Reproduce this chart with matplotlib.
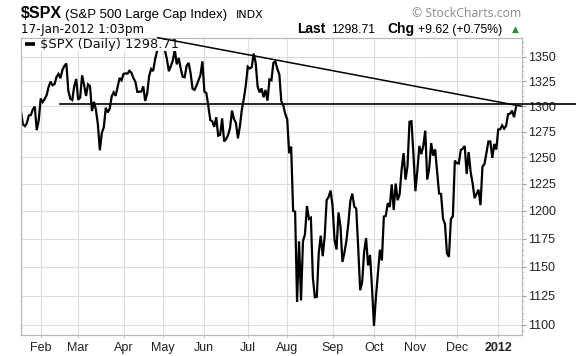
import numpy as np
import pandas as pd
import matplotlib
matplotlib.use("Agg")
import matplotlib.pyplot as plt
from matplotlib.patches import Rectangle
from matplotlib.ticker import FixedLocator, NullFormatter

# ---------------- data ----------------
start_date = "2011-01-18"
end_date = "2012-01-17"
market_holidays = ["2011-02-21", "2011-04-22", "2011-05-30", "2011-07-04",
                   "2011-09-05", "2011-11-24", "2011-12-26", "2012-01-02",
                   "2012-01-16"]

closes = [
    # Jan 2011
    1295.02, 1281.92, 1280.26, 1283.35, 1290.84, 1291.18, 1296.63, 1299.54, 1276.34, 1286.12,
    # Feb
    1307.59, 1304.03, 1307.10, 1310.87, 1319.05, 1324.57, 1320.88, 1321.87, 1329.15, 1332.32,
    1328.01, 1336.32, 1340.43, 1343.01, 1315.44, 1307.40, 1306.10, 1319.88, 1327.22,
    # Mar
    1306.33, 1308.44, 1330.97, 1321.15, 1310.13, 1321.82, 1320.02, 1295.11, 1304.28, 1296.39,
    1281.87, 1256.88, 1273.72, 1279.21, 1298.38, 1293.77, 1297.54, 1309.66, 1313.80, 1310.19,
    1319.44, 1328.26, 1325.83,
    # Apr
    1332.41, 1332.87, 1332.63, 1335.54, 1333.51, 1328.17, 1324.46, 1314.16, 1314.41, 1314.52,
    1319.68, 1305.14, 1312.62, 1330.36, 1337.38, 1335.25, 1347.24, 1355.66, 1360.48, 1363.61,
    # May
    1361.22, 1356.62, 1347.32, 1335.10, 1340.20, 1346.29, 1357.16, 1342.08, 1348.65, 1337.77,
    1329.47, 1328.98, 1340.68, 1343.60, 1333.27, 1317.37, 1316.28, 1320.47, 1325.69, 1331.10,
    1345.20,
    # Jun
    1314.55, 1312.94, 1300.16, 1286.17, 1284.94, 1279.56, 1289.00, 1270.98, 1271.83, 1287.87,
    1265.42, 1267.64, 1271.50, 1278.36, 1295.52, 1287.14, 1283.50, 1268.45, 1280.10, 1296.67,
    1307.41, 1320.64,
    # Jul
    1339.67, 1337.88, 1339.22, 1353.22, 1343.80, 1319.49, 1313.64, 1317.72, 1308.87, 1316.14,
    1305.44, 1326.73, 1325.84, 1343.80, 1345.02, 1337.43, 1331.94, 1304.89, 1300.67, 1292.28,
    # Aug
    1286.94, 1254.05, 1260.34, 1200.07, 1199.38, 1119.46, 1172.53, 1120.76, 1172.64, 1178.81,
    1204.49, 1192.76, 1193.89, 1140.65, 1123.53, 1123.82, 1162.35, 1177.60, 1159.27, 1176.80,
    1210.08, 1212.92, 1218.89,
    # Sep
    1204.42, 1173.97, 1165.24, 1198.62, 1185.90, 1154.23, 1162.27, 1172.87, 1188.68, 1209.11,
    1216.01, 1204.09, 1202.09, 1166.76, 1129.56, 1136.43, 1162.95, 1175.38, 1151.06, 1160.40,
    1131.42,
    # Oct
    1099.23, 1123.95, 1144.03, 1164.97, 1155.46, 1194.89, 1195.54, 1207.25, 1203.66, 1224.58,
    1200.86, 1225.38, 1209.88, 1215.39, 1238.25, 1254.19, 1229.05, 1242.00, 1284.59, 1285.09,
    1253.30,
    # Nov
    1218.28, 1237.90, 1261.15, 1253.23, 1261.12, 1275.92, 1229.10, 1239.69, 1263.85, 1251.78,
    1257.81, 1236.91, 1216.13, 1215.65, 1192.98, 1188.04, 1161.79, 1158.67, 1192.55, 1195.19,
    1246.96,
    # Dec
    1244.58, 1244.28, 1257.08, 1258.47, 1261.01, 1234.35, 1255.19, 1236.47, 1225.73, 1211.82,
    1215.75, 1219.66, 1205.35, 1241.30, 1243.72, 1254.00, 1265.33, 1265.43, 1249.64, 1263.02,
    1257.60,
    # Jan 2012
    1277.06, 1277.30, 1281.06, 1277.81, 1280.70, 1292.08, 1292.48, 1295.50, 1289.09, 1298.71,
]

month_labels = ["Feb", "Mar", "Apr", "May", "Jun", "Jul", "Aug", "Sep", "Oct", "Nov", "Dec", "2012"]
y_ticks = [1100, 1125, 1150, 1175, 1200, 1225, 1250, 1275, 1300, 1325, 1350]

# annotation lines (drawn by hand on the original)
support_level = 1302.6
support_start = "2011-02-15"
trend_start = ("2011-04-27", 1369.7)
trend_end_value = 1299.8

# ---------------- layout helpers ----------------
W, H = 576, 356
def fx(x): return x / W
def fy(y): return 1 - y / H

dates = pd.bdate_range(start_date, end_date, freq="C", holidays=market_holidays)
n = len(closes)
dates = dates[:n]
x = np.arange(n)

month_ids = dates.year * 12 + dates.month
first_of_month = [i for i in range(1, n) if month_ids[i] != month_ids[i - 1]]

fig = plt.figure(figsize=(W / 100, H / 100), dpi=100)
fig.patch.set_facecolor("white")
L, R, T, B = 20.7, 521.7, 37.7, 335.0
ax = fig.add_axes([fx(L), fy(B), (R - L) / W, (B - T) / H])

ax.plot(x, closes, color="black", lw=1.6, zorder=2, solid_joinstyle="miter")

ax.set_yscale("log")
ax.set_ylim(1091.6, 1369.7)
ax.set_xlim(-0.14, 253.9)

ax.yaxis.set_major_locator(FixedLocator(y_ticks))
ax.yaxis.set_minor_locator(FixedLocator(list(range(1095, 1370, 5))))
ax.yaxis.set_minor_formatter(NullFormatter())
ax.set_yticklabels([str(v) for v in y_ticks])
ax.yaxis.tick_right()
ax.tick_params(axis="y", which="major", length=3, width=0.8, color="#a0a0a0",
               pad=1.5, labelsize=9, labelcolor="#222222")
ax.tick_params(axis="y", which="minor", length=1.5, width=0.6, color="#c0c0c0")
for lab in ax.get_yticklabels():
    lab.set_family("Liberation Sans")

ax.set_xticks(first_of_month)
ax.set_xticklabels(month_labels)
ax.tick_params(axis="x", length=2, width=0.8, color="#d0d0d0", pad=3,
               labelsize=9, labelcolor="#222222")
for lab in ax.get_xticklabels():
    lab.set_family("Liberation Sans")
ax.get_xticklabels()[-1].set_fontweight("bold")

ax.grid(True, which="major", color="#dcdcdc", lw=0.8, zorder=0)
ax.set_axisbelow(True)
for s in ax.spines.values():
    s.set_color("#b8b8b8")
    s.set_linewidth(0.9)

# legend box hiding the top of the price line
ax.add_patch(Rectangle((fx(L + 1), fy(50.5)), (190 - L) / W, (50.5 - T - 1) / H,
                       transform=fig.transFigure, facecolor="white", edgecolor="none",
                       zorder=3, clip_on=False))
ax.plot([fx(25), fx(35)], [fy(44.3), fy(44.3)], transform=fig.transFigure,
        color="black", lw=2.6, zorder=4, clip_on=False, solid_capstyle="butt")
fig.text(fx(39.5), fy(44.5), "$SPX (Daily) 1298.71", family="DejaVu Sans", fontsize=9.4,
         va="center", ha="left", color="#111111", zorder=5)

# hand-drawn support / trend lines
xs_support = dates.get_loc(pd.Timestamp(support_start))
ax.plot([xs_support, 281.4], [support_level, support_level], color="black", lw=1.2,
        zorder=6, clip_on=False)
xt = dates.get_loc(pd.Timestamp(trend_start[0]))
ax.plot([xt + 0.4, 253.9], [trend_start[1], trend_end_value], color="black", lw=1.1,
        zorder=6, clip_on=False)

# header texts
fig.text(fx(20.7), fy(18.3), "$SPX", family="Liberation Sans", fontweight="bold",
         fontsize=11.5, va="baseline", ha="left", color="black")
fig.text(fx(65), fy(17.8), "(S&P 500 Large Cap Index)", family="Liberation Sans",
         fontsize=9.5, va="baseline", ha="left", color="black")
fig.text(fx(235.7), fy(17.8), "INDX", family="DejaVu Sans", fontsize=8,
         va="baseline", ha="left", color="black")
fig.text(fx(20.7), fy(33.3), "17-Jan-2012 1:03pm", family="DejaVu Sans", fontsize=8.6,
         va="baseline", ha="left", color="black")
fig.text(fx(521), fy(17.0), "\u00a9 StockCharts.com", family="Open Sans", fontsize=8.8,
         va="baseline", ha="right", color="#8a8a8a")

fig.text(fx(296.7), fy(33.3), "Last", family="Liberation Sans", fontweight="bold",
         fontsize=10, va="baseline", ha="left", color="black")
fig.text(fx(331), fy(33.3), "1298.71", family="Liberation Sans",
         fontsize=8.8, va="baseline", ha="left", color="black")
fig.text(fx(387.7), fy(33.3), "Chg", family="Liberation Sans", fontweight="bold",
         fontsize=10, va="baseline", ha="left", color="black")
fig.text(fx(417.7), fy(33.3), "+9.62 (+0.75%)", family="Liberation Sans",
         fontsize=8.8, va="baseline", ha="left", color="black")
fig.text(fx(511.5), fy(32.3), "\u25b2", family="DejaVu Sans",
         fontsize=6.5, va="baseline", ha="left", color="#2e8b3a")

fig.savefig("out.png", dpi=100, facecolor="white")
